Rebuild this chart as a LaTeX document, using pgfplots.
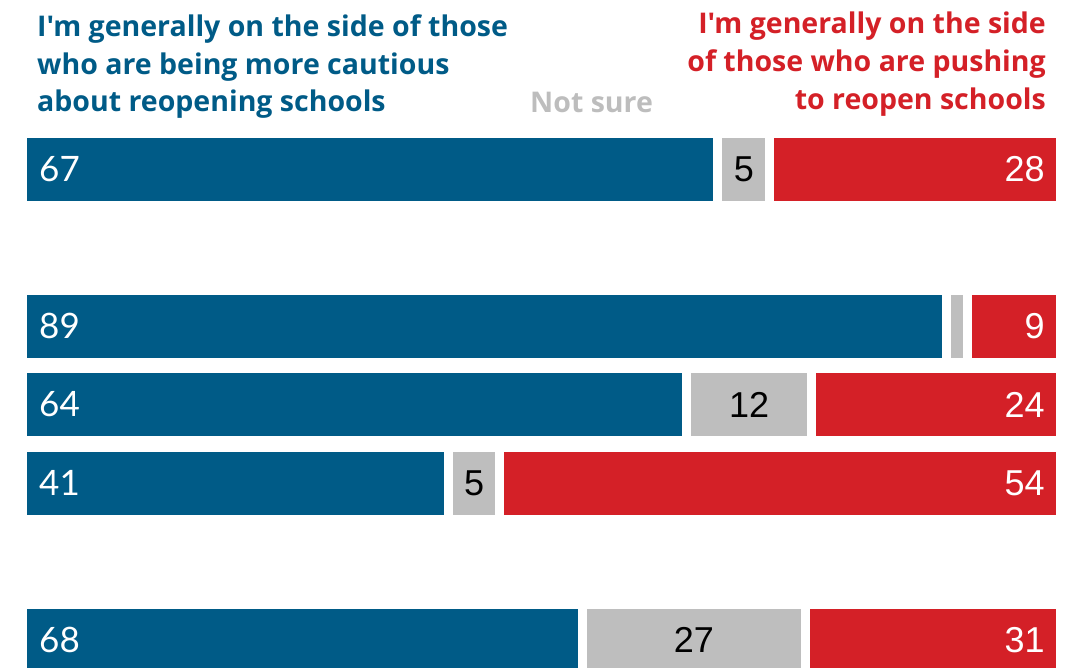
\documentclass[border=0pt]{standalone}
\usepackage{pgfplots}
\pgfplotsset{compat=1.18}
\usepackage{pgfplotstable}
\usepackage{fontspec}
\setmainfont{Lato}
\newfontfamily\arialf{Liberation Sans}
\newfontfamily\titlef{Open Sans}[Ligatures=TeXOff]
\definecolor{cblue}{HTML}{005B87}
\definecolor{cred}{HTML}{D42027}
\definecolor{cgray}{HTML}{BEBEBE}
\definecolor{cgraytxt}{HTML}{BDBDBD}

% normalized shares (row 6 labels 68/27/31 scaled to 100)
\pgfplotstableread{
row blue gray red
0 67 5 28
2 89 2 9
3 64 12 24
4 41 5 54
6 53.968 21.429 24.603
}\bars

\pgfplotstableread{
row x lab
0 1.59 67
2 1.59 89
3 1.59 64
4 1.59 41
6 1.59 68
}\bluelab

\pgfplotstableread{
row x lab
0 69.5 5
3 70 12
4 43.5 5
6 64.683 27
}\graylab

\pgfplotstableread{
row x lab
0 98.5 28
2 98.5 9
3 98.5 24
4 98.5 54
6 98.5 31
}\redlab

\pgfplotsset{myax/.style={at={(0,0)}, anchor=south west, scale only axis,
  width=1071pt, height=668pt, xmin=-2.1676, xmax=101.012,
  ymin=-2.1529, ymax=6.3567, y dir=reverse, axis lines=none}}

\begin{document}
\begin{tikzpicture}[x=1pt,y=1pt]
\useasboundingbox (0,0) rectangle (1071,668);
\begin{axis}[myax, xbar stacked, bar width=72pt]
\addplot[fill=cblue, draw=white, line width=9pt] table[x=blue,y=row]{\bars};
\addplot[fill=cgray, draw=white, line width=9pt] table[x=gray,y=row]{\bars};
\addplot[fill=cred, draw=white, line width=9pt] table[x=red,y=row]{\bars};
\end{axis}
\begin{axis}[myax]
\addplot[only marks, mark=none, nodes near coords, point meta=explicit symbolic,
  nodes near coords style={anchor=west, inner sep=0pt, text=white, font=\fontsize{35}{40}\selectfont}]
  table[x=x,y=row,meta=lab]{\bluelab};
\addplot[only marks, mark=none, nodes near coords, point meta=explicit symbolic,
  nodes near coords style={anchor=center, inner sep=0pt, text=black, font=\arialf\fontsize{36}{40}\selectfont}]
  table[x=x,y=row,meta=lab]{\graylab};
\addplot[only marks, mark=none, nodes near coords, point meta=explicit symbolic,
  nodes near coords style={anchor=east, inner sep=0pt, text=white, font=\arialf\fontsize{36}{40}\selectfont}]
  table[x=x,y=row,meta=lab]{\redlab};
\end{axis}
\begin{scope}[every node/.style={inner sep=0pt, font=\titlef\bfseries\fontsize{28.5}{38}\selectfont}]
\node[anchor=base west, text=cblue] at (37,631) {I'm generally on the side of those};
\node[anchor=base west, text=cblue] at (37,593.5) {who are being more cautious};
\node[anchor=base west, text=cblue] at (37,556) {about reopening schools};
\node[anchor=base east, text=cred] at (1046,634) {I'm generally on the side};
\node[anchor=base east, text=cred] at (1046,596) {of those who are pushing};
\node[anchor=base east, text=cred] at (1046,558) {to reopen schools};
\node[anchor=base west, text=cgraytxt] at (530,555) {Not sure};
\end{scope}
\end{tikzpicture}
\end{document}
